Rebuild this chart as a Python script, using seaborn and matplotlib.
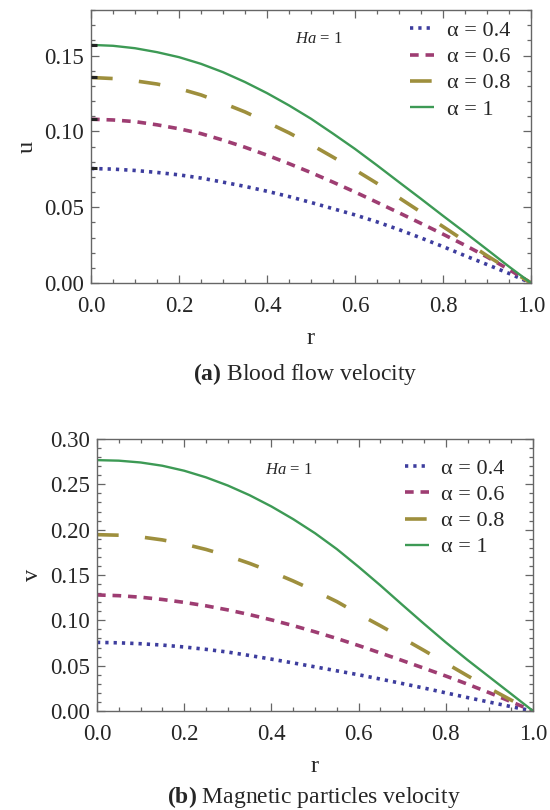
import numpy as np
import pandas as pd
import matplotlib
matplotlib.use("Agg")
import matplotlib.pyplot as plt
import seaborn as sns
from matplotlib.ticker import MultipleLocator

# ---- data ----
r = [0.00, 0.05, 0.10, 0.15, 0.20, 0.25, 0.30, 0.35, 0.40, 0.45, 0.50,
     0.55, 0.60, 0.65, 0.70, 0.75, 0.80, 0.85, 0.90, 0.95, 1.00]
alphas = ["0.4", "0.6", "0.8", "1"]

u_04 = [0.0755, 0.0751, 0.0742, 0.0729, 0.0713, 0.0692, 0.0665, 0.0637, 0.0605, 0.0570, 0.0531,
        0.0490, 0.0449, 0.0403, 0.0352, 0.0297, 0.0240, 0.0180, 0.0122, 0.0063, 0.0]
u_06 = [0.1080, 0.1075, 0.1064, 0.1043, 0.1017, 0.0985, 0.0942, 0.0895, 0.0843, 0.0787, 0.0728,
        0.0665, 0.0600, 0.0532, 0.0463, 0.0393, 0.0322, 0.0249, 0.0172, 0.0089, 0.0]
u_08 = [0.1355, 0.1348, 0.1333, 0.1312, 0.1282, 0.1240, 0.1186, 0.1128, 0.1060, 0.0990, 0.0913,
        0.0830, 0.0746, 0.0657, 0.0562, 0.0467, 0.0372, 0.0276, 0.0180, 0.0090, 0.0]
u_10 = [0.1570, 0.1564, 0.1548, 0.1522, 0.1489, 0.1445, 0.1390, 0.1325, 0.1252, 0.1171, 0.1083,
        0.0985, 0.0884, 0.0776, 0.0665, 0.0555, 0.0443, 0.0333, 0.0221, 0.0108, 0.0]

v_04 = [0.0757, 0.0752, 0.0742, 0.0727, 0.0706, 0.0680, 0.0650, 0.0612, 0.0572, 0.0530, 0.0487,
        0.0443, 0.0400, 0.0352, 0.0303, 0.0253, 0.0200, 0.0148, 0.0098, 0.0048, 0.0]
v_06 = [0.1280, 0.1272, 0.1255, 0.1230, 0.1198, 0.1160, 0.1115, 0.1063, 0.1005, 0.0942, 0.0873,
        0.0800, 0.0722, 0.0640, 0.0557, 0.0472, 0.0386, 0.0296, 0.0201, 0.0102, 0.0]
v_08 = [0.1945, 0.1939, 0.1920, 0.1887, 0.1841, 0.1782, 0.1711, 0.1628, 0.1536, 0.1434, 0.1324,
        0.1207, 0.1070, 0.0940, 0.0805, 0.0668, 0.0528, 0.0388, 0.0250, 0.0120, 0.0]
v_10 = [0.2767, 0.2761, 0.2741, 0.2705, 0.2650, 0.2577, 0.2487, 0.2380, 0.2256, 0.2116, 0.1961,
        0.1786, 0.1590, 0.1385, 0.1172, 0.0962, 0.0757, 0.0562, 0.0375, 0.0188, 0.0]

u_series = [u_04, u_06, u_08, u_10]
v_series = [v_04, v_06, v_08, v_10]

x_ticks = [0.0, 0.2, 0.4, 0.6, 0.8, 1.0]
u_ticks = [0.00, 0.05, 0.10, 0.15]
v_ticks = [0.00, 0.05, 0.10, 0.15, 0.20, 0.25, 0.30]

# ---- style ----
sns.set_style("ticks")
plt.rcParams["font.family"] = ["Liberation Serif", "DejaVu Serif"]
plt.rcParams["mathtext.fontset"] = "custom"
plt.rcParams["mathtext.rm"] = "Liberation Serif"
plt.rcParams["mathtext.it"] = "Liberation Serif:italic"
plt.rcParams["mathtext.bf"] = "Liberation Serif:bold"

colors = ["#3d3d9e", "#9e3d72", "#9e8f3d", "#3d9a55"]
lws = [2.6, 2.6, 2.6, 1.7]
styles = [(0, (0.9, 1.4)), (0, (2.4, 1.9)), (0, (6.0, 7.3)), "-"]

def make_long(series):
    rows = []
    for a, vals in zip(alphas, series):
        for x, y in zip(r, vals):
            rows.append({"r": x, "val": y, "alpha": a})
    return pd.DataFrame(rows)

fig = plt.figure(figsize=(5.5, 8.1), dpi=100)
ax1 = fig.add_axes([91/550, 1-283/810, 440/550, 273/810])
ax2 = fig.add_axes([97/550, 1-711/810, 436/550, 272/810])

spine_col = "#666666"
tick_fs = 16.5
leg_fs = 16

def draw(ax, series, ticks, ymax, ylabel, leg_anchor, ha_pos, caption, cap_y, cap_x, mark_start=False):
    df = make_long(series)
    for i, a in enumerate(alphas):
        sub = df[df["alpha"] == a]
        sns.lineplot(data=sub, x="r", y="val", ax=ax, color=colors[i],
                     linewidth=lws[i], label="α = " + a, estimator=None)
        ax.lines[-1].set_linestyle(styles[i])
        ax.lines[-1].set_solid_capstyle("butt")
        ax.lines[-1].set_dash_capstyle("butt")
    if mark_start:
        ax.hlines([s[0] for s in series], 0, 0.014, colors="#222222", lw=2.2, zorder=5)
    ax.set_xlim(0, 1)
    ax.set_ylim(0, ymax)
    ax.set_xticks(x_ticks)
    ax.set_xticklabels([f"{t:.1f}" for t in x_ticks])
    ax.set_yticks(ticks)
    ax.set_yticklabels([f"{t:.2f}" for t in ticks])
    ax.xaxis.set_minor_locator(MultipleLocator(0.05))
    ax.yaxis.set_minor_locator(MultipleLocator(0.01))
    ax.tick_params(which="both", direction="in", top=True, right=True,
                   color=spine_col, width=0.9)
    ax.tick_params(which="major", length=6, labelsize=tick_fs)
    ax.tick_params(axis="x", which="major", pad=9)
    ax.tick_params(axis="y", which="major", pad=5)
    ax.tick_params(which="minor", length=3)
    for sp in ax.spines.values():
        sp.set_color(spine_col)
        sp.set_linewidth(1.0)
    ax.set_xlabel("r", fontsize=tick_fs + 1, labelpad=8)
    ax.set_ylabel(ylabel, fontsize=tick_fs + 1, labelpad=5)
    leg = ax.legend(loc="upper left", bbox_to_anchor=leg_anchor, frameon=False,
                    fontsize=leg_fs, handlelength=1.1, handletextpad=0.55,
                    labelspacing=0.25, borderpad=0, borderaxespad=0)
    for line in leg.get_lines():
        line.set_solid_capstyle("butt")
    ax.text(ha_pos[0], ha_pos[1], r"$Ha$ = 1", transform=ax.transAxes,
            fontsize=12, va="center", ha="left")
    fig.text(cap_x, cap_y, caption, fontsize=17, ha="center", va="center")

draw(ax1, u_series, u_ticks, 0.18, "u", (0.725, 0.961), (0.464, 0.894),
     r"$\mathbf{(a)}$ Blood flow velocity", 1-374/810, 305.5/550, mark_start=True)
draw(ax2, v_series, v_ticks, 0.30, "v", (0.706, 0.928), (0.385, 0.886),
     r"$\mathbf{(b)}$ Magnetic particles velocity", 1-797/810, 314/550)

fig.savefig("out.png", dpi=100)
